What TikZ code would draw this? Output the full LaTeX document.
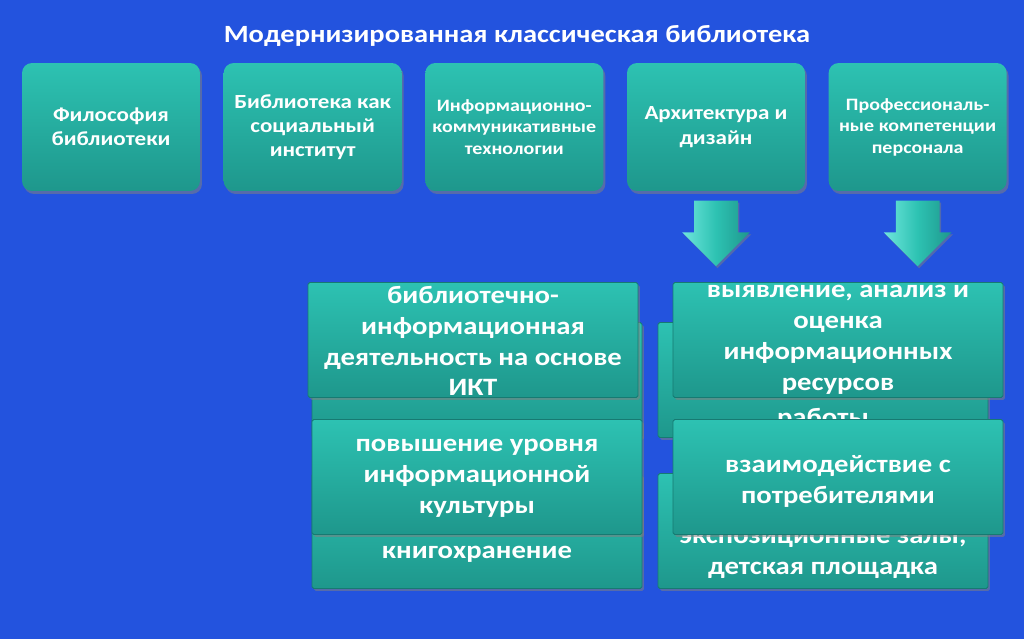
\documentclass[tikz,border=0pt]{standalone}
\usepackage{fontspec}
\setmainfont{Carlito}[FakeStretch=1.15]
\usepackage{xcolor}
\usepackage{tikz}
\usetikzlibrary{shapes.arrows, positioning, shadows}
\definecolor{slideblue}{HTML}{2353DE}
\definecolor{tealtop}{HTML}{2DC2B2}
\definecolor{tealbot}{HTML}{1E978C}
\definecolor{tealline}{HTML}{167A72}
\definecolor{teallight}{HTML}{6FE6DC}

\begin{document}
\begin{tikzpicture}[x=0.02cm, y=-0.02cm, node distance=0.46cm,
  topbox/.style={rectangle, rounded corners=0.2cm, top color=tealtop, bottom color=tealbot, text=white, align=center, minimum width=3.56cm, minimum height=2.56cm, inner sep=2pt, font=\bfseries\fontsize{11.4}{13.8}\selectfont, drop shadow={shadow xshift=0.04cm, shadow yshift=-0.06cm, opacity=0.55}},
  smalltext/.style={font=\bfseries\fontsize{9.9}{12.2}\selectfont},
  bigbox/.style={rectangle, rounded corners=1pt, top color=tealtop, bottom color=tealbot, draw=tealline, line width=0.5pt, minimum width=6.6cm, minimum height=2.3cm, drop shadow={shadow xshift=0.04cm, shadow yshift=-0.05cm, opacity=0.55}},
  bigtext/.style={text=white, align=center, inner sep=0pt, font=\bfseries\fontsize{14.2}{17.6}\selectfont},
  downarrow/.style={single arrow, shape border rotate=270, minimum height=1.26cm, single arrow head extend=0.24cm, single arrow head indent=0pt, inner sep=0.43cm, left color=teallight, right color=tealbot, middle color=tealtop, drop shadow={shadow xshift=0.03cm, shadow yshift=-0.04cm, opacity=0.5}}]
  \path[use as bounding box, fill=slideblue] (0,0) rectangle (1024,639);

  \node[text=white, font=\bfseries\fontsize{14.1}{17}\selectfont] (title) at (517,36) {Модернизированная классическая библиотека};

  \node[topbox] (philosophy) at (111,127) {Философия\\библиотеки};
  \node[topbox, right=of philosophy] (institute) {Библиотека как\\социальный\\институт};
  \node[topbox, smalltext, right=of institute] (ict) {Информационно-\\коммуникативные\\технологии};
  \node[topbox, right=of ict] (design) {Архитектура и\\дизайн};
  \node[topbox, smalltext, right=of design] (staff) {Профессиональ-\\ные компетенции\\персонала};

  \node[downarrow, below=0.18cm of design] (designarrow) {};
  \node[downarrow, below=0.18cm of staff] (staffarrow) {};

  \node[bigbox] (ictback) at (477,380) {};
  \node[bigbox] (workback) at (823,380) {};
  \node[bigtext, anchor=base] (worktext) at (823,425) {работы};
  \node[bigbox] (storeback) at (477,531) {};
  \node[bigtext, anchor=base] (storetext) at (477,558) {книгохранение};
  \node[bigbox] (hallback) at (823,531) {};
  \node[bigtext, anchor=base] (halltext) at (823,574) {экспозиционные залы,\\детская площадка};

  \node[bigbox] (activity) at (473,340) {};
  \node[bigtext] (activitytext) at (473,341) {библиотечно-\\информационная\\деятельность на основе\\ИКТ};
  \node[bigbox] (resources) at (838,340) {};
  \node[bigtext] (resourcestext) at (838,340) {выявление, анализ и\\оценка\\информационных\\ресурсов};
  \node[bigbox] (culture) at (477,477) {};
  \node[bigtext] (culturetext) at (477,478) {повышение уровня\\информационной\\культуры};
  \node[bigbox] (users) at (838,477) {};
  \node[bigtext] (userstext) at (838,481) {взаимодействие с\\потребителями};
\end{tikzpicture}
\end{document}
